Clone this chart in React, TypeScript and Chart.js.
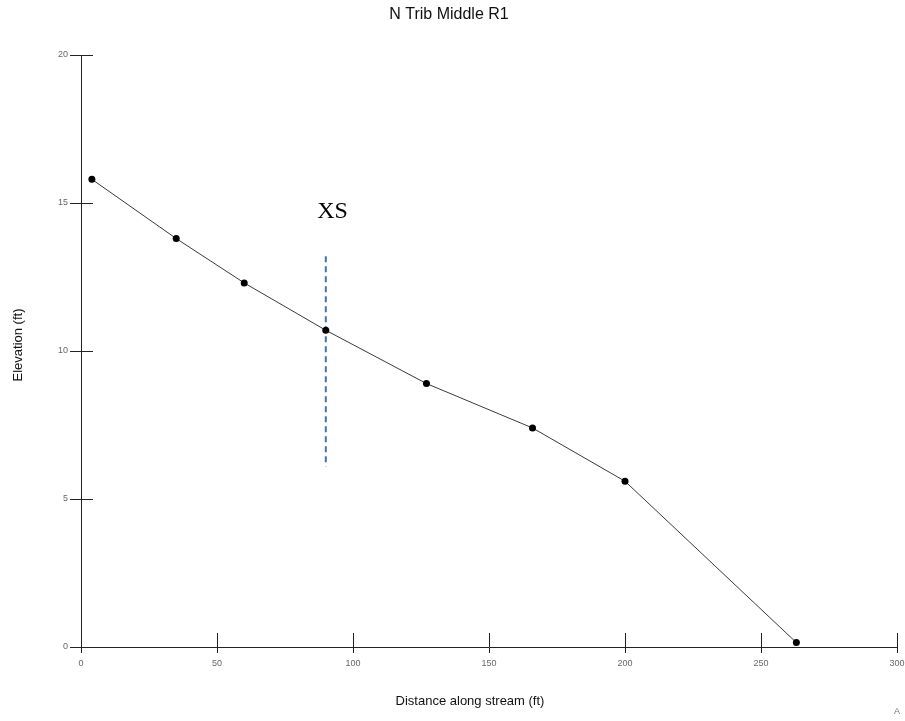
import React, { useEffect, useRef } from "react";
import { Chart, registerables } from "chart.js";

Chart.register(...registerables);

const distanceFt = [4, 35, 60, 90, 127, 166, 200, 263];
const elevationFt = [15.8, 13.8, 12.3, 10.7, 8.9, 7.4, 5.6, 0.15];
const xsMarkerX = [90, 90];
const xsMarkerY = [13.2, 6.1];
const xTicks = [0, 50, 100, 150, 200, 250, 300];
const yTicks = [0, 5, 10, 15, 20];

const W = 905;
const H = 721;

const decorations = {
  id: "decorations",
  afterDraw(chart: any) {
    const { ctx, chartArea, scales } = chart;
    const x = scales.x;
    const y = scales.y;
    ctx.save();
    // tick marks reaching into the plot area
    ctx.strokeStyle = "#222";
    ctx.lineWidth = 1;
    ctx.beginPath();
    for (const v of xTicks) {
      const px = Math.round(x.getPixelForValue(v)) + 0.5;
      ctx.moveTo(px, chartArea.bottom);
      ctx.lineTo(px, chartArea.bottom - 14);
    }
    for (const v of yTicks) {
      const py = Math.round(y.getPixelForValue(v)) + 0.5;
      ctx.moveTo(chartArea.left, py);
      ctx.lineTo(chartArea.left + 12, py);
    }
    ctx.stroke();

    // chart title
    ctx.fillStyle = "#111";
    ctx.textAlign = "center";
    ctx.textBaseline = "middle";
    ctx.font = "16px 'Liberation Sans', Arial, sans-serif";
    ctx.fillText("N Trib Middle R1", 449, 15);

    // axis titles
    ctx.font = "13px 'Liberation Sans', Arial, sans-serif";
    ctx.fillText("Distance along stream (ft)", 470, 701);
    ctx.save();
    ctx.translate(18, 345);
    ctx.rotate(-Math.PI / 2);
    ctx.fillText("Elevation (ft)", 0, 0);
    ctx.restore();

    // cross-section label
    ctx.fillStyle = "#000";
    ctx.font = "24px 'Liberation Serif', 'Times New Roman', serif";
    ctx.fillText("XS", x.getPixelForValue(92.5), y.getPixelForValue(14.7));

    ctx.fillStyle = "#777";
    ctx.font = "9px 'Liberation Sans', Arial, sans-serif";
    ctx.textAlign = "left";
    ctx.fillText("A", 894, 712);
    ctx.restore();
  },
};

export default function App() {
  const ref = useRef<HTMLCanvasElement | null>(null);

  useEffect(() => {
    document.body.style.margin = "0";
    const canvas = ref.current;
    if (!canvas) return;
    const chart = new Chart(canvas, {
      type: "scatter",
      data: {
        datasets: [
          {
            label: "Profile",
            data: distanceFt.map((d, i) => ({ x: d, y: elevationFt[i] })),
            showLine: true,
            borderColor: "#3a3a3a",
            borderWidth: 1,
            pointRadius: 3.5,
            pointBackgroundColor: "#000",
            pointBorderColor: "#000",
            pointBorderWidth: 0,
          },
          {
            label: "XS",
            data: xsMarkerX.map((d, i) => ({ x: d, y: xsMarkerY[i] })),
            showLine: true,
            borderColor: "#3F73C0",
            borderWidth: 2,
            borderDash: [6, 4],
            pointRadius: 0,
          },
        ],
      },
      options: {
        responsive: false,
        animation: false,
        layout: { padding: { top: 55, right: 8, left: 0, bottom: 0 } },
        plugins: {
          legend: { display: false },
          tooltip: { enabled: false },
          title: { display: false },
        },
        scales: {
          x: {
            type: "linear",
            min: 0,
            max: 300,
            afterBuildTicks: (s: any) => {
              s.ticks = xTicks.map((v) => ({ value: v }));
            },
            afterFit: (s: any) => {
              s.height = H - 647;
              s.paddingLeft = 0;
              s.paddingRight = 0;
            },
            border: { display: true, color: "#222", width: 1 },
            grid: {
              drawOnChartArea: false,
              drawTicks: true,
              tickLength: 6,
              color: "#222",
            },
            ticks: {
              padding: 5,
              color: "#666",
              font: { size: 9, family: "'Liberation Sans', Arial, sans-serif" },
            },
          },
          y: {
            type: "linear",
            min: 0,
            max: 20,
            afterBuildTicks: (s: any) => {
              s.ticks = yTicks.map((v) => ({ value: v }));
            },
            afterFit: (s: any) => {
              s.width = 81;
              s.paddingTop = 0;
              s.paddingBottom = 0;
            },
            border: { display: true, color: "#222", width: 1 },
            grid: {
              drawOnChartArea: false,
              drawTicks: true,
              tickLength: 11,
              color: "#222",
            },
            ticks: {
              padding: 2,
              color: "#666",
              font: { size: 9, family: "'Liberation Sans', Arial, sans-serif" },
            },
          },
        },
      },
      plugins: [decorations],
    });
    return () => chart.destroy();
  }, []);

  return (
    <div style={{ position: "absolute", left: 0, top: 0, width: W, height: H, background: "#fff" }}>
      <canvas ref={ref} width={W} height={H} style={{ width: W, height: H, display: "block" }} />
    </div>
  );
}
